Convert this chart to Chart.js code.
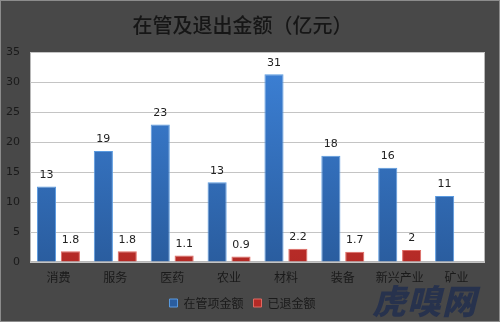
<!DOCTYPE html>
<html><head><meta charset="utf-8">
<script src="https://cdn.jsdelivr.net/npm/chart.js@4.4.0/dist/chart.umd.min.js"></script>
<style>
html,body{margin:0;padding:0;background:#484848;}
#wrap{position:relative;width:500px;height:322px;}
#wm{position:absolute;left:372px;top:280px;font-family:"Noto Sans CJK SC";font-weight:900;font-style:italic;font-size:34px;color:rgba(36,48,78,0.9);letter-spacing:1px;line-height:40px;}
</style></head>
<body><div id="wrap"><canvas id="c" width="500" height="322"></canvas><div id="wm">虎嗅网</div></div>
<script>
const categories = ['消费','服务','医药','农业','材料','装备','新兴产业','矿业'];
const managedValues = [12.6, 18.5, 22.9, 13.3, 31.3, 17.7, 15.7, 11.0];
const managedLabels = ['13','19','23','13','31','18','16','11'];
const exitedValues = [1.8, 1.8, 1.1, 0.9, 2.2, 1.7, 2, null];
const exitedLabels = ['1.8','1.8','1.1','0.9','2.2','1.7','2',''];
const yTicks = [0,5,10,15,20,25,30,35];

function grad(ctx, top, bottom){
  const ch = ctx.chart, a = ch.chartArea;
  if(!a) return top;
  const g = ch.ctx.createLinearGradient(0, a.top, 0, a.bottom);
  g.addColorStop(0, top); g.addColorStop(1, bottom);
  return g;
}

const bgPlugin = {
  id:'bg',
  beforeDraw(chart){
    const c = chart.ctx, a = chart.chartArea;
    c.save();
    c.fillStyle = '#484848'; c.fillRect(0,0,chart.width,chart.height);
    c.strokeStyle = '#8c8c8c'; c.lineWidth = 1; c.strokeRect(0.5,0.5,chart.width-1,chart.height-1);
    c.fillStyle = '#ffffff'; c.fillRect(a.left, a.top, a.right-a.left, a.bottom-a.top);
    c.strokeStyle = '#b8b8b8'; c.strokeRect(a.left+0.5, a.top+0.5, a.right-a.left-1, a.bottom-a.top-1);
    c.restore();
  }
};
const labelPlugin = {
  id:'vlabels',
  afterDatasetsDraw(chart){
    const c = chart.ctx;
    c.save();
    c.font = '11px "DejaVu Sans", sans-serif';
    c.fillStyle = '#222'; c.textAlign = 'center'; c.textBaseline = 'bottom';
    const lbls = [managedLabels, exitedLabels];
    chart.data.datasets.forEach((ds, di) => {
      chart.getDatasetMeta(di).data.forEach((bar, i) => {
        if (ds.data[i] == null) return;
        c.fillText(lbls[di][i], bar.x, bar.y - 6);
      });
    });
    c.restore();
  }
};

new Chart(document.getElementById('c'), {
  type:'bar',
  data:{
    labels: categories,
    datasets:[
      {label:'在管项金额', data: managedValues,
       backgroundColor: ctx => grad(ctx,'#3d82d8','#2a5d9f'),
       borderColor:'#5a9ae0', borderWidth:1,
       categoryPercentage:0.84, barPercentage:0.8},
      {label:'已退金额', data: exitedValues,
       backgroundColor: ctx => grad(ctx,'#e0443c','#b42a26'),
       borderColor:'#e06a62', borderWidth:1,
       categoryPercentage:0.84, barPercentage:0.8}
    ]
  },
  options:{
    responsive:false, animation:false,
    devicePixelRatio:1,
    layout:{padding:{left:0,right:15,top:0,bottom:3}},
    plugins:{
      title:{display:true, text:'在管及退出金额（亿元）', color:'#161616',
        font:{family:'"Noto Sans CJK SC"', size:20, weight:'500'}, padding:{top:13,bottom:15}},
      legend:{position:'bottom',
        labels:{color:'#1a1a1a', boxWidth:8, boxHeight:8, padding:10,
          font:{family:'"Noto Sans CJK SC"', size:12}}},
      tooltip:{enabled:false}
    },
    scales:{
      x:{grid:{display:false, drawTicks:false}, border:{display:false},
         ticks:{color:'#1a1a1a', padding:8, font:{family:'"Noto Sans CJK SC"', size:12}},
         afterFit(s){ s.height = 25; }},
      y:{min:0, max:35, afterBuildTicks(s){ s.ticks = yTicks.map(v=>({value:v})); },
         grid:{color:'#c4c4c4', drawTicks:false, lineWidth:1}, border:{display:false},
         ticks:{color:'#1a1a1a', padding:10, font:{family:'"DejaVu Sans"', size:11}},
         afterFit(s){ s.width = 30; }}
    }
  },
  plugins:[bgPlugin, labelPlugin]
});
</script></body></html>
